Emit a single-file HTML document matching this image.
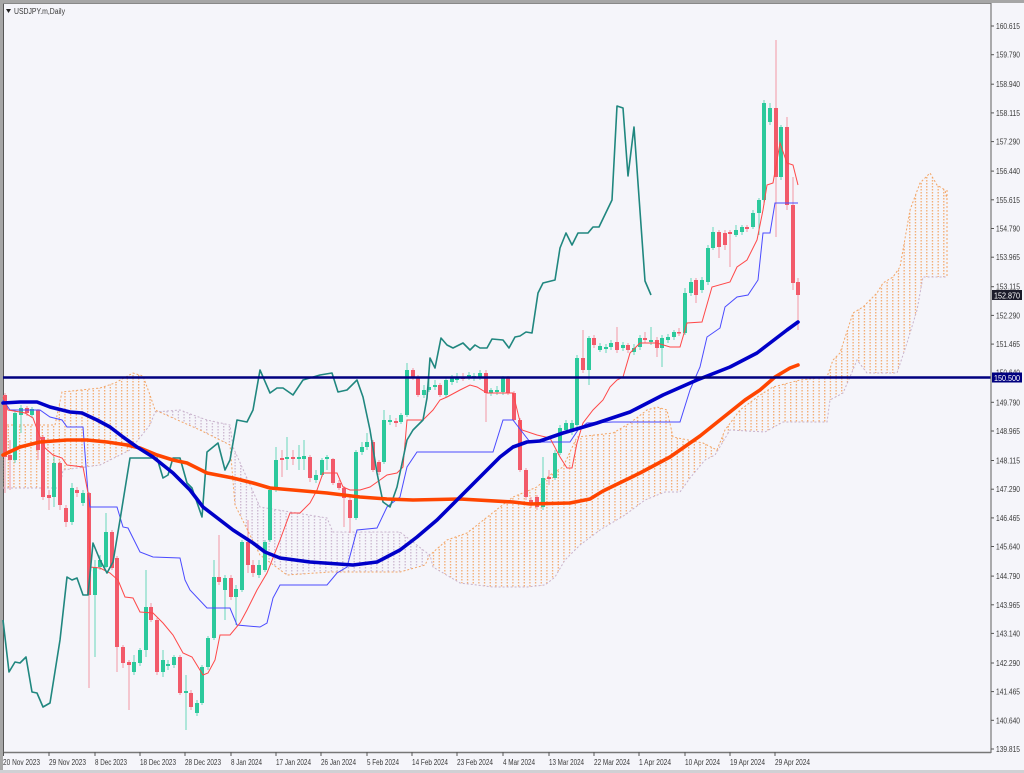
<!DOCTYPE html>
<html><head><meta charset="utf-8"><style>
html,body{margin:0;padding:0;background:#f5f5fa;}
svg{display:block;}
text{font-family:"Liberation Sans",sans-serif;fill:#3a3a3a;}
</style></head><body>
<svg width="1024" height="773" viewBox="0 0 1024 773" xmlns="http://www.w3.org/2000/svg">
<defs>
<pattern id="po" width="5.67" height="3" patternUnits="userSpaceOnUse"><rect x="2" y="0" width="1.2" height="1.5" fill="#f3a565"/></pattern>
<pattern id="pt" width="5.67" height="3" patternUnits="userSpaceOnUse"><rect x="2" y="0" width="1.2" height="1.5" fill="#c8b2cc"/></pattern>
<clipPath id="aboveB"><polygon points="3,0 3,488 60,488 63,470 100,465 130,450 150,425 155,412 180,410 193,415 207,420 230,425 233,447 260,507 327,518 333,532 400,532 427,553 430,555 433,567 460,583 493,587 527,587 545,585 555,577 565,560 580,545 600,530 625,515 645,500 665,492 680,492 690,478 705,460 715,455 730,430 765,432 783,422 827,422 830,400 843,393 850,377 857,360 867,373 897,373 907,343 917,310 923,277 947,277 947,0"/></clipPath>
<clipPath id="aboveA"><polygon points="3,0 3,425 55,425 62,392 100,388 115,383 133,373 143,376 150,395 155,410 200,430 230,445 235,505 260,555 287,575 330,572 400,572 425,565 430,555 447,540 467,533 500,507 513,497 537,487 550,475 563,467 577,437 613,433 630,423 647,410 657,407 667,410 673,437 703,443 717,450 725,430 740,410 760,395 773,387 800,380 827,377 833,360 840,353 853,313 863,307 877,293 883,283 893,277 900,267 910,210 920,183 930,173 937,185 945,190 947,200 947,0"/></clipPath>
</defs>
<rect x="0" y="0" width="1024" height="773" fill="#f5f5fa"/>
<!-- frame -->
<rect x="0" y="0" width="1024" height="3" fill="#a6a6a6"/>
<rect x="0" y="0" width="3" height="773" fill="#a6a6a6"/>
<rect x="0" y="770" width="1024" height="3" fill="#d0d0d4"/>
<line x1="3.5" y1="3" x2="3.5" y2="752" stroke="#555" stroke-width="1"/>
<line x1="3" y1="3.5" x2="991" y2="3.5" stroke="#888" stroke-width="1"/>

<!-- cloud -->
<polygon clip-path="url(#aboveB)" fill="url(#po)" points="3,773 3,425 55,425 62,392 100,388 115,383 133,373 143,376 150,395 155,410 200,430 230,445 235,505 260,555 287,575 330,572 400,572 425,565 430,555 447,540 467,533 500,507 513,497 537,487 550,475 563,467 577,437 613,433 630,423 647,410 657,407 667,410 673,437 703,443 717,450 725,430 740,410 760,395 773,387 800,380 827,377 833,360 840,353 853,313 863,307 877,293 883,283 893,277 900,267 910,210 920,183 930,173 937,185 945,190 947,200 947,773"/>
<polygon clip-path="url(#aboveA)" fill="url(#pt)" points="3,773 3,488 60,488 63,470 100,465 130,450 150,425 155,412 180,410 193,415 207,420 230,425 233,447 260,507 327,518 333,532 400,532 427,553 430,555 433,567 460,583 493,587 527,587 545,585 555,577 565,560 580,545 600,530 625,515 645,500 665,492 680,492 690,478 705,460 715,455 730,430 765,432 783,422 827,422 830,400 843,393 850,377 857,360 867,373 897,373 907,343 917,310 923,277 947,277 947,773"/>
<polyline fill="none" stroke="#f3a565" stroke-width="1" stroke-dasharray="2,2" points="3,425 55,425 62,392 100,388 115,383 133,373 143,376 150,395 155,410 200,430 230,445 235,505 260,555 287,575 330,572 400,572 425,565 430,555 447,540 467,533 500,507 513,497 537,487 550,475 563,467 577,437 613,433 630,423 647,410 657,407 667,410 673,437 703,443 717,450 725,430 740,410 760,395 773,387 800,380 827,377 833,360 840,353 853,313 863,307 877,293 883,283 893,277 900,267 910,210 920,183 930,173 937,185 945,190 947,200"/>
<polyline fill="none" stroke="#c8b2cc" stroke-width="1" stroke-dasharray="2,2" points="3,488 60,488 63,470 100,465 130,450 150,425 155,412 180,410 193,415 207,420 230,425 233,447 260,507 327,518 333,532 400,532 427,553 430,555 433,567 460,583 493,587 527,587 545,585 555,577 565,560 580,545 600,530 625,515 645,500 665,492 680,492 690,478 705,460 715,455 730,430 765,432 783,422 827,422 830,400 843,393 850,377 857,360 867,373 897,373 907,343 917,310 923,277 947,277"/>
<line x1="947" y1="190" x2="947" y2="277" stroke="#f3a565" stroke-width="1" stroke-dasharray="2,2"/>

<!-- green candles -->
<g stroke="#2cc99c" stroke-width="1" stroke-opacity="0.7">
<line x1="15" y1="410" x2="15" y2="463"/><line x1="21" y1="405" x2="21" y2="433"/><line x1="32" y1="407" x2="32" y2="418"/><line x1="54" y1="457" x2="54" y2="507"/><line x1="72" y1="483" x2="72" y2="525"/><line x1="83" y1="490" x2="83" y2="506"/><line x1="95" y1="560" x2="95" y2="657"/><line x1="100" y1="555" x2="100" y2="570"/><line x1="106" y1="513" x2="106" y2="568"/><line x1="134" y1="655" x2="134" y2="675"/><line x1="140" y1="648" x2="140" y2="666"/><line x1="146" y1="570" x2="146" y2="657"/><line x1="163" y1="650" x2="163" y2="677"/><line x1="168" y1="660" x2="168" y2="670"/><line x1="174" y1="655" x2="174" y2="668"/><line x1="186" y1="675" x2="186" y2="730"/><line x1="197" y1="700" x2="197" y2="716"/><line x1="202" y1="665" x2="202" y2="705"/><line x1="208" y1="636" x2="208" y2="670"/><line x1="214" y1="560" x2="214" y2="640"/><line x1="225" y1="575" x2="225" y2="620"/><line x1="236" y1="585" x2="236" y2="625"/><line x1="242" y1="540" x2="242" y2="592"/><line x1="259" y1="560" x2="259" y2="578"/><line x1="265" y1="540" x2="265" y2="572"/><line x1="270" y1="487" x2="270" y2="542"/><line x1="276" y1="447" x2="276" y2="492"/><line x1="287" y1="437" x2="287" y2="470"/><line x1="299" y1="445" x2="299" y2="470"/><line x1="304" y1="440" x2="304" y2="470"/><line x1="316" y1="470" x2="316" y2="483"/><line x1="322" y1="458" x2="322" y2="477"/><line x1="327" y1="455" x2="327" y2="470"/><line x1="356" y1="450" x2="356" y2="520"/><line x1="362" y1="442" x2="362" y2="455"/><line x1="367" y1="433" x2="367" y2="450"/><line x1="384" y1="410" x2="384" y2="464"/><line x1="390" y1="415" x2="390" y2="425"/><line x1="401" y1="413" x2="401" y2="424"/><line x1="407" y1="363" x2="407" y2="417"/><line x1="424" y1="385" x2="424" y2="398"/><line x1="429" y1="378" x2="429" y2="392"/><line x1="435" y1="380" x2="435" y2="390"/><line x1="446" y1="378" x2="446" y2="397"/><line x1="452" y1="375" x2="452" y2="385"/><line x1="457" y1="373" x2="457" y2="383"/><line x1="469" y1="372" x2="469" y2="380"/><line x1="474" y1="373" x2="474" y2="381"/><line x1="480" y1="370" x2="480" y2="380"/><line x1="491" y1="388" x2="491" y2="396"/><line x1="497" y1="386" x2="497" y2="395"/><line x1="503" y1="376" x2="503" y2="395"/><line x1="543" y1="457" x2="543" y2="510"/><line x1="555" y1="450" x2="555" y2="480"/><line x1="560" y1="425" x2="560" y2="455"/><line x1="566" y1="420" x2="566" y2="433"/><line x1="572" y1="420" x2="572" y2="435"/><line x1="577" y1="355" x2="577" y2="427"/><line x1="589" y1="336" x2="589" y2="385"/><line x1="600" y1="343" x2="600" y2="352"/><line x1="606" y1="344" x2="606" y2="353"/><line x1="611" y1="340" x2="611" y2="350"/><line x1="623" y1="342" x2="623" y2="351"/><line x1="634" y1="344" x2="634" y2="355"/><line x1="640" y1="335" x2="640" y2="350"/><line x1="651" y1="327" x2="651" y2="345"/><line x1="662" y1="335" x2="662" y2="367"/><line x1="668" y1="334" x2="668" y2="343"/><line x1="674" y1="330" x2="674" y2="340"/><line x1="685" y1="288" x2="685" y2="335"/><line x1="691" y1="278" x2="691" y2="296"/><line x1="702" y1="277" x2="702" y2="293"/><line x1="708" y1="245" x2="708" y2="285"/><line x1="713" y1="227" x2="713" y2="250"/><line x1="736" y1="225" x2="736" y2="237"/><line x1="742" y1="225" x2="742" y2="235"/><line x1="753" y1="210" x2="753" y2="229"/><line x1="759" y1="198" x2="759" y2="235"/><line x1="764" y1="100" x2="764" y2="205"/><line x1="770" y1="103" x2="770" y2="125"/><line x1="781" y1="125" x2="781" y2="180"/>
</g>
<g fill="#2cc99c">
<rect x="13" y="413" width="4" height="47"/><rect x="19" y="408" width="4" height="7"/><rect x="30" y="409" width="4" height="6"/><rect x="52" y="463" width="4" height="34"/><rect x="70" y="488" width="4" height="34"/><rect x="81" y="493" width="4" height="10"/><rect x="93" y="567" width="4" height="28"/><rect x="98" y="560" width="4" height="7"/><rect x="104" y="532" width="4" height="35"/><rect x="132" y="662" width="4" height="10"/><rect x="138" y="650" width="4" height="13"/><rect x="144" y="607" width="4" height="43"/><rect x="161" y="660" width="4" height="12"/><rect x="166" y="664" width="4" height="2"/><rect x="172" y="657" width="4" height="8"/><rect x="184" y="691" width="4" height="2"/><rect x="195" y="703" width="4" height="10"/><rect x="200" y="667" width="4" height="36"/><rect x="206" y="638" width="4" height="29"/><rect x="212" y="577" width="4" height="61"/><rect x="223" y="578" width="4" height="12"/><rect x="234" y="589" width="4" height="8"/><rect x="240" y="542" width="4" height="48"/><rect x="257" y="565" width="4" height="10"/><rect x="263" y="542" width="4" height="28"/><rect x="268" y="490" width="4" height="50"/><rect x="274" y="460" width="4" height="30"/><rect x="285" y="457" width="4" height="2"/><rect x="297" y="457" width="4" height="2"/><rect x="302" y="456" width="4" height="3"/><rect x="314" y="475" width="4" height="5"/><rect x="320" y="460" width="4" height="15"/><rect x="325" y="457" width="4" height="2"/><rect x="354" y="452" width="4" height="66"/><rect x="360" y="447" width="4" height="5"/><rect x="365" y="442" width="4" height="5"/><rect x="382" y="420" width="4" height="42"/><rect x="388" y="420" width="4" height="2"/><rect x="399" y="415" width="4" height="7"/><rect x="405" y="370" width="4" height="45"/><rect x="422" y="390" width="4" height="5"/><rect x="427" y="387" width="4" height="3"/><rect x="433" y="385" width="4" height="2"/><rect x="444" y="380" width="4" height="15"/><rect x="450" y="377" width="4" height="5"/><rect x="455" y="378" width="4" height="2"/><rect x="467" y="375" width="4" height="3"/><rect x="472" y="376" width="4" height="2"/><rect x="478" y="373" width="4" height="4"/><rect x="489" y="390" width="4" height="3"/><rect x="495" y="390" width="4" height="2"/><rect x="501" y="378" width="4" height="14"/><rect x="541" y="478" width="4" height="29"/><rect x="553" y="453" width="4" height="25"/><rect x="558" y="428" width="4" height="25"/><rect x="564" y="423" width="4" height="7"/><rect x="570" y="423" width="4" height="9"/><rect x="575" y="358" width="4" height="67"/><rect x="587" y="338" width="4" height="32"/><rect x="598" y="346" width="4" height="4"/><rect x="604" y="347" width="4" height="2"/><rect x="609" y="343" width="4" height="4"/><rect x="621" y="345" width="4" height="3"/><rect x="632" y="348" width="4" height="4"/><rect x="638" y="338" width="4" height="9"/><rect x="649" y="340" width="4" height="2"/><rect x="660" y="338" width="4" height="10"/><rect x="666" y="337" width="4" height="3"/><rect x="672" y="332" width="4" height="5"/><rect x="683" y="293" width="4" height="40"/><rect x="689" y="282" width="4" height="11"/><rect x="700" y="280" width="4" height="10"/><rect x="706" y="248" width="4" height="34"/><rect x="711" y="232" width="4" height="16"/><rect x="734" y="230" width="4" height="5"/><rect x="740" y="227" width="4" height="5"/><rect x="751" y="213" width="4" height="14"/><rect x="757" y="200" width="4" height="13"/><rect x="762" y="103" width="4" height="97"/><rect x="768" y="108" width="4" height="14"/><rect x="779" y="127" width="4" height="50"/>
</g>
<!-- red candles -->
<g stroke="#f25a6a" stroke-width="1" stroke-opacity="0.6">
<line x1="5" y1="393" x2="5" y2="493"/><line x1="10" y1="440" x2="10" y2="490"/><line x1="27" y1="406" x2="27" y2="416"/><line x1="38" y1="409" x2="38" y2="460"/><line x1="43" y1="435" x2="43" y2="500"/><line x1="49" y1="490" x2="49" y2="510"/><line x1="60" y1="461" x2="60" y2="510"/><line x1="66" y1="505" x2="66" y2="527"/><line x1="77" y1="487" x2="77" y2="497"/><line x1="89" y1="492" x2="89" y2="688"/><line x1="112" y1="530" x2="112" y2="570"/><line x1="117" y1="556" x2="117" y2="672"/><line x1="123" y1="645" x2="123" y2="668"/><line x1="129" y1="660" x2="129" y2="710"/><line x1="151" y1="603" x2="151" y2="622"/><line x1="157" y1="618" x2="157" y2="675"/><line x1="180" y1="655" x2="180" y2="695"/><line x1="191" y1="690" x2="191" y2="710"/><line x1="219" y1="535" x2="219" y2="585"/><line x1="231" y1="575" x2="231" y2="600"/><line x1="248" y1="520" x2="248" y2="573"/><line x1="253" y1="560" x2="253" y2="577"/><line x1="282" y1="450" x2="282" y2="477"/><line x1="293" y1="450" x2="293" y2="465"/><line x1="310" y1="455" x2="310" y2="482"/><line x1="333" y1="458" x2="333" y2="485"/><line x1="339" y1="480" x2="339" y2="490"/><line x1="344" y1="486" x2="344" y2="527"/><line x1="350" y1="497" x2="350" y2="533"/><line x1="373" y1="440" x2="373" y2="472"/><line x1="379" y1="460" x2="379" y2="475"/><line x1="396" y1="418" x2="396" y2="427"/><line x1="413" y1="368" x2="413" y2="380"/><line x1="418" y1="375" x2="418" y2="397"/><line x1="440" y1="383" x2="440" y2="397"/><line x1="463" y1="373" x2="463" y2="381"/><line x1="486" y1="370" x2="486" y2="422"/><line x1="508" y1="376" x2="508" y2="395"/><line x1="514" y1="391" x2="514" y2="422"/><line x1="520" y1="418" x2="520" y2="472"/><line x1="526" y1="468" x2="526" y2="500"/><line x1="531" y1="497" x2="531" y2="508"/><line x1="537" y1="495" x2="537" y2="510"/><line x1="549" y1="470" x2="549" y2="485"/><line x1="583" y1="330" x2="583" y2="373"/><line x1="594" y1="335" x2="594" y2="348"/><line x1="617" y1="327" x2="617" y2="353"/><line x1="628" y1="343" x2="628" y2="353"/><line x1="645" y1="332" x2="645" y2="343"/><line x1="657" y1="337" x2="657" y2="357"/><line x1="679" y1="328" x2="679" y2="336"/><line x1="696" y1="278" x2="696" y2="303"/><line x1="719" y1="230" x2="719" y2="258"/><line x1="725" y1="230" x2="725" y2="250"/><line x1="730" y1="230" x2="730" y2="267"/><line x1="747" y1="225" x2="747" y2="232"/><line x1="776" y1="40" x2="776" y2="237"/><line x1="787" y1="117" x2="787" y2="210"/><line x1="793" y1="177" x2="793" y2="290"/><line x1="798" y1="278" x2="798" y2="330"/>
</g>
<g fill="#f25a6a">
<rect x="3" y="395" width="4" height="62"/><rect x="8" y="455" width="4" height="5"/><rect x="25" y="408" width="4" height="5"/><rect x="36" y="410" width="4" height="40"/><rect x="41" y="437" width="4" height="60"/><rect x="47" y="495" width="4" height="3"/><rect x="58" y="463" width="4" height="42"/><rect x="64" y="508" width="4" height="14"/><rect x="75" y="490" width="4" height="3"/><rect x="87" y="493" width="4" height="102"/><rect x="110" y="532" width="4" height="36"/><rect x="115" y="558" width="4" height="89"/><rect x="121" y="647" width="4" height="16"/><rect x="127" y="662" width="4" height="3"/><rect x="149" y="607" width="4" height="13"/><rect x="155" y="620" width="4" height="52"/><rect x="178" y="657" width="4" height="36"/><rect x="189" y="693" width="4" height="14"/><rect x="217" y="577" width="4" height="5"/><rect x="229" y="578" width="4" height="19"/><rect x="246" y="542" width="4" height="23"/><rect x="251" y="565" width="4" height="8"/><rect x="280" y="458" width="4" height="2"/><rect x="291" y="457" width="4" height="2"/><rect x="308" y="457" width="4" height="21"/><rect x="331" y="459" width="4" height="24"/><rect x="337" y="483" width="4" height="5"/><rect x="342" y="488" width="4" height="10"/><rect x="348" y="500" width="4" height="18"/><rect x="371" y="442" width="4" height="28"/><rect x="377" y="462" width="4" height="10"/><rect x="394" y="421" width="4" height="2"/><rect x="411" y="370" width="4" height="7"/><rect x="416" y="377" width="4" height="18"/><rect x="438" y="385" width="4" height="10"/><rect x="461" y="377" width="4" height="2"/><rect x="484" y="373" width="4" height="20"/><rect x="506" y="378" width="4" height="15"/><rect x="512" y="393" width="4" height="27"/><rect x="518" y="420" width="4" height="50"/><rect x="524" y="470" width="4" height="27"/><rect x="529" y="500" width="4" height="5"/><rect x="535" y="497" width="4" height="10"/><rect x="547" y="477" width="4" height="2"/><rect x="581" y="358" width="4" height="12"/><rect x="592" y="338" width="4" height="7"/><rect x="615" y="342" width="4" height="8"/><rect x="626" y="345" width="4" height="5"/><rect x="643" y="338" width="4" height="2"/><rect x="655" y="340" width="4" height="8"/><rect x="677" y="332" width="4" height="1.5"/><rect x="694" y="280" width="4" height="15"/><rect x="717" y="232" width="4" height="15"/><rect x="723" y="233" width="4" height="12"/><rect x="728" y="232" width="4" height="2"/><rect x="745" y="227" width="4" height="2"/><rect x="774" y="108" width="4" height="69"/><rect x="785" y="127" width="4" height="78"/><rect x="791" y="205" width="4" height="78"/><rect x="796" y="282" width="4" height="13"/>
</g>

<!-- Kijun -->
<polyline fill="none" stroke="#4a4aff" stroke-width="1" points="3,400 10,410 40,410 50,417 62,420 67,427 83,427 88,493 90,507 117,507 123,527 128,528 140,552 153,557 180,558 185,580 190,590 207,608 230,608 237,625 260,627 267,623 273,598 280,585 327,585 337,573 347,567 357,530 377,528 387,507 400,497 407,467 417,452 493,452 503,420 513,420 523,433 530,442 570,442 578,430 587,423 613,422 680,422 690,390 700,367 707,337 720,328 725,307 737,297 748,295 758,280 763,233 770,233 775,203 798,203"/>
<!-- Tenkan -->
<polyline fill="none" stroke="#ff4848" stroke-width="1" points="3,397 8,410 20,412 25,413 33,418 40,437 45,448 53,455 62,458 67,465 83,467 88,493 90,567 100,568 110,573 118,580 125,597 133,598 140,612 153,613 163,623 173,635 183,653 192,657 203,675 208,673 215,660 220,635 230,635 240,623 247,610 257,590 267,573 280,540 290,513 300,513 310,503 317,490 323,473 337,473 343,487 350,490 360,490 370,487 380,480 387,475 397,473 403,467 407,420 423,420 433,410 440,400 447,397 460,390 470,385 477,387 487,393 513,393 522,430 537,435 550,438 560,457 567,468 572,468 577,443 583,423 593,410 603,400 610,387 617,380 623,377 630,353 640,343 657,343 670,347 680,347 687,323 702,322 712,287 730,282 737,267 747,260 757,240 763,210 767,185 773,183 780,143 787,163 793,165 798,185"/>
<!-- Chikou -->
<polyline fill="none" stroke="#20877f" stroke-width="1.6" stroke-linejoin="round" points="3,620 9,672 15,662 20,663 26,657 32,692 37,693 43,707 50,703 60,640 67,577 72,580 77,578 83,595 88,595 93,543 100,560 107,573 113,562 120,520 130,458 157,458 163,478 168,475 173,458 180,458 187,483 192,488 202,517 207,452 218,443 225,470 230,460 237,420 247,422 253,410 260,370 270,393 277,388 283,388 293,395 303,380 320,375 332,373 338,392 347,390 357,380 363,397 370,430 377,473 383,502 390,507 397,487 407,440 413,430 423,420 427,398 430,358 435,368 441,338 447,345 453,348 463,343 470,350 475,345 480,348 487,348 492,339 503,340 509,348 515,337 520,336 526,332 532,333 538,293 543,283 555,280 560,248 566,233 572,245 578,233 588,233 593,227 599,227 612,200 617,106 623,108 628,176 634,127 645,281 651,295"/>

<!-- MAs -->
<polyline fill="none" stroke="#ff4500" stroke-width="3.6" stroke-linejoin="round" stroke-linecap="round" points="3,455 20,447 40,442 67,440 87,440 107,442 127,445 140,448 157,455 173,460 187,463 207,473 233,478 253,483 270,488 293,490 327,493 360,497 387,499 413,500 460,499 513,502 530,504 570,503 590,499 603,491 640,473 670,457 700,436 720,420 745,400 760,390 775,377 790,368 798,365"/>
<polyline fill="none" stroke="#0000c8" stroke-width="3.6" stroke-linejoin="round" stroke-linecap="round" points="3,403 20,402 37,402 50,407 70,412 82,413 97,420 110,427 123,437 137,447 153,457 173,473 190,490 203,507 233,530 253,543 265,552 280,558 310,562 353,565 377,562 400,550 417,537 437,520 460,497 480,477 500,457 513,447 527,442 540,441 563,433 597,423 630,412 663,395 697,380 730,367 757,353 770,343 787,330 798,322"/>

<!-- horizontal line -->
<line x1="3" y1="377.5" x2="991" y2="377.5" stroke="#00007f" stroke-width="2.6"/>

<!-- axes -->
<line x1="991" y1="3" x2="991" y2="753" stroke="#777" stroke-width="1.2"/>
<line x1="3" y1="752.5" x2="991" y2="752.5" stroke="#777" stroke-width="1.5"/>

<!-- right ticks & labels -->
<g stroke="#555" stroke-width="1">
<line x1="991" y1="26" x2="994" y2="26"/><line x1="991" y1="54.7" x2="994" y2="54.7"/><line x1="991" y1="84.2" x2="994" y2="84.2"/><line x1="991" y1="112.9" x2="994" y2="112.9"/><line x1="991" y1="141.6" x2="994" y2="141.6"/><line x1="991" y1="171.1" x2="994" y2="171.1"/><line x1="991" y1="199.8" x2="994" y2="199.8"/><line x1="991" y1="228.5" x2="994" y2="228.5"/><line x1="991" y1="257.2" x2="994" y2="257.2"/><line x1="991" y1="286.7" x2="994" y2="286.7"/><line x1="991" y1="315.4" x2="994" y2="315.4"/><line x1="991" y1="344.1" x2="994" y2="344.1"/><line x1="991" y1="402.3" x2="994" y2="402.3"/><line x1="991" y1="431" x2="994" y2="431"/><line x1="991" y1="460.5" x2="994" y2="460.5"/><line x1="991" y1="489.2" x2="994" y2="489.2"/><line x1="991" y1="517.9" x2="994" y2="517.9"/><line x1="991" y1="546.5" x2="994" y2="546.5"/><line x1="991" y1="576.1" x2="994" y2="576.1"/><line x1="991" y1="604.8" x2="994" y2="604.8"/><line x1="991" y1="633.4" x2="994" y2="633.4"/><line x1="991" y1="663" x2="994" y2="663"/><line x1="991" y1="691.6" x2="994" y2="691.6"/><line x1="991" y1="720.3" x2="994" y2="720.3"/><line x1="991" y1="749" x2="994" y2="749"/>
</g>
<g font-size="8">
<text x="996" y="29" textLength="24" lengthAdjust="spacingAndGlyphs">160.615</text>
<text x="996" y="57.7" textLength="24" lengthAdjust="spacingAndGlyphs">159.790</text>
<text x="996" y="87.2" textLength="24" lengthAdjust="spacingAndGlyphs">158.940</text>
<text x="996" y="115.9" textLength="24" lengthAdjust="spacingAndGlyphs">158.115</text>
<text x="996" y="144.6" textLength="24" lengthAdjust="spacingAndGlyphs">157.290</text>
<text x="996" y="174.1" textLength="24" lengthAdjust="spacingAndGlyphs">156.440</text>
<text x="996" y="202.8" textLength="24" lengthAdjust="spacingAndGlyphs">155.615</text>
<text x="996" y="231.5" textLength="24" lengthAdjust="spacingAndGlyphs">154.790</text>
<text x="996" y="260.2" textLength="24" lengthAdjust="spacingAndGlyphs">153.965</text>
<text x="996" y="289.7" textLength="24" lengthAdjust="spacingAndGlyphs">153.115</text>
<text x="996" y="318.4" textLength="24" lengthAdjust="spacingAndGlyphs">152.290</text>
<text x="996" y="347.1" textLength="24" lengthAdjust="spacingAndGlyphs">151.465</text>
<text x="996" y="375.7" textLength="24" lengthAdjust="spacingAndGlyphs">150.640</text>
<text x="996" y="405.3" textLength="24" lengthAdjust="spacingAndGlyphs">149.790</text>
<text x="996" y="434" textLength="24" lengthAdjust="spacingAndGlyphs">148.965</text>
<text x="996" y="463.5" textLength="24" lengthAdjust="spacingAndGlyphs">148.115</text>
<text x="996" y="492.2" textLength="24" lengthAdjust="spacingAndGlyphs">147.290</text>
<text x="996" y="520.9" textLength="24" lengthAdjust="spacingAndGlyphs">146.465</text>
<text x="996" y="549.5" textLength="24" lengthAdjust="spacingAndGlyphs">145.640</text>
<text x="996" y="579.1" textLength="24" lengthAdjust="spacingAndGlyphs">144.790</text>
<text x="996" y="607.8" textLength="24" lengthAdjust="spacingAndGlyphs">143.965</text>
<text x="996" y="636.4" textLength="24" lengthAdjust="spacingAndGlyphs">143.140</text>
<text x="996" y="666" textLength="24" lengthAdjust="spacingAndGlyphs">142.290</text>
<text x="996" y="694.6" textLength="24" lengthAdjust="spacingAndGlyphs">141.465</text>
<text x="996" y="723.3" textLength="24" lengthAdjust="spacingAndGlyphs">140.640</text>
<text x="996" y="752" textLength="24" lengthAdjust="spacingAndGlyphs">139.815</text>
</g>
<!-- price boxes -->
<rect x="992" y="290" width="30" height="10" fill="#1c1c2a"/>
<text x="994" y="298.3" font-size="8" textLength="26" lengthAdjust="spacingAndGlyphs" style="fill:#ffffff">152.870</text>
<rect x="992" y="372.5" width="30" height="10" fill="#00007f"/>
<text x="994" y="380.8" font-size="8" textLength="26" lengthAdjust="spacingAndGlyphs" style="fill:#ffffff">150.500</text>

<!-- bottom ticks & labels -->
<g stroke="#555" stroke-width="1">
<line x1="3.5" y1="752" x2="3.5" y2="756"/><line x1="49" y1="752" x2="49" y2="756"/><line x1="95" y1="752" x2="95" y2="756"/><line x1="140" y1="752" x2="140" y2="756"/><line x1="185" y1="752" x2="185" y2="756"/><line x1="231" y1="752" x2="231" y2="756"/><line x1="276" y1="752" x2="276" y2="756"/><line x1="321" y1="752" x2="321" y2="756"/><line x1="367" y1="752" x2="367" y2="756"/><line x1="412" y1="752" x2="412" y2="756"/><line x1="457" y1="752" x2="457" y2="756"/><line x1="503" y1="752" x2="503" y2="756"/><line x1="549" y1="752" x2="549" y2="756"/><line x1="594" y1="752" x2="594" y2="756"/><line x1="639" y1="752" x2="639" y2="756"/><line x1="685" y1="752" x2="685" y2="756"/><line x1="730" y1="752" x2="730" y2="756"/><line x1="775" y1="752" x2="775" y2="756"/>
</g>
<g font-size="8">
<text x="3" y="765" textLength="37" lengthAdjust="spacingAndGlyphs">20 Nov 2023</text>
<text x="49" y="765" textLength="37" lengthAdjust="spacingAndGlyphs">29 Nov 2023</text>
<text x="95" y="765" textLength="32" lengthAdjust="spacingAndGlyphs">8 Dec 2023</text>
<text x="140" y="765" textLength="36" lengthAdjust="spacingAndGlyphs">18 Dec 2023</text>
<text x="185" y="765" textLength="36" lengthAdjust="spacingAndGlyphs">28 Dec 2023</text>
<text x="231" y="765" textLength="31" lengthAdjust="spacingAndGlyphs">8 Jan 2024</text>
<text x="276" y="765" textLength="35" lengthAdjust="spacingAndGlyphs">17 Jan 2024</text>
<text x="321" y="765" textLength="35" lengthAdjust="spacingAndGlyphs">26 Jan 2024</text>
<text x="367" y="765" textLength="32" lengthAdjust="spacingAndGlyphs">5 Feb 2024</text>
<text x="412" y="765" textLength="36" lengthAdjust="spacingAndGlyphs">14 Feb 2024</text>
<text x="457" y="765" textLength="36" lengthAdjust="spacingAndGlyphs">23 Feb 2024</text>
<text x="503" y="765" textLength="32" lengthAdjust="spacingAndGlyphs">4 Mar 2024</text>
<text x="549" y="765" textLength="35" lengthAdjust="spacingAndGlyphs">13 Mar 2024</text>
<text x="594" y="765" textLength="36" lengthAdjust="spacingAndGlyphs">22 Mar 2024</text>
<text x="639" y="765" textLength="32" lengthAdjust="spacingAndGlyphs">1 Apr 2024</text>
<text x="685" y="765" textLength="35" lengthAdjust="spacingAndGlyphs">10 Apr 2024</text>
<text x="730" y="765" textLength="35" lengthAdjust="spacingAndGlyphs">19 Apr 2024</text>
<text x="775" y="765" textLength="35" lengthAdjust="spacingAndGlyphs">29 Apr 2024</text>
</g>

<!-- title -->
<polygon points="6,9 11,9 8.5,13" fill="#222"/>
<text x="14" y="14" font-size="8" textLength="51" lengthAdjust="spacingAndGlyphs">USDJPY.m,Daily</text>
</svg>
</body></html>
